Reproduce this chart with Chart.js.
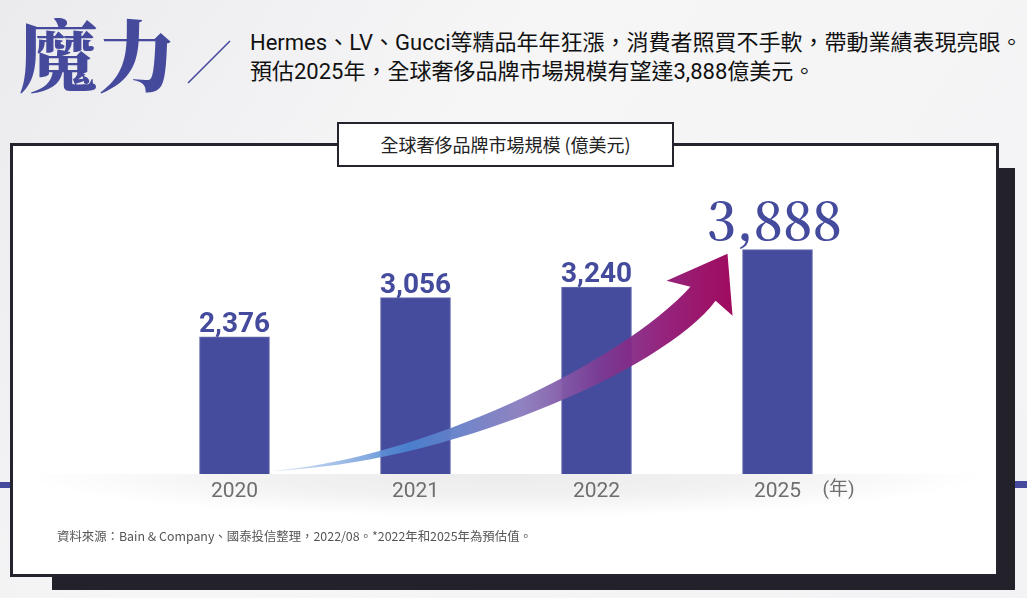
<!DOCTYPE html>
<html lang="zh-Hant">
<head>
<meta charset="utf-8">
<script src="https://cdn.jsdelivr.net/npm/chart.js@4"></script>
<style>
  body {
    margin: 0; width: 1027px; height: 598px; overflow: hidden; position: relative;
    background: linear-gradient(125deg, #ebebee 0%, #f6f6f7 38%, #f3f3f5 100%);
    font-family: 'Noto Sans CJK TC', sans-serif;
  }
  .abs { position: absolute; }
  #shadow { left: 52px; top: 168px; width: 963px; height: 422px; background: #23222b; }
  #panel { left: 10px; top: 143px; width: 989px; height: 434px; background: #fff;
    border: 3px solid #25232d; box-sizing: border-box; }
  .stripe { background: #464a9c; height: 6px; top: 482px; }
  #bigTitle { left: 20px; top: -4px; font-size: 78px; font-weight: 900; color: #464a9c;
    font-family: 'Noto Serif CJK TC', 'Noto Sans CJK TC', serif; }
  #lead { left: 250px; top: 28px; font-size: 22px; line-height: 29px; color: #111;
    font-family: 'Liberation Sans Narrow', Roboto, 'Noto Sans CJK TC', sans-serif; }
  #boxTitle { left: 337px; top: 122px; width: 337px; height: 45px; background: #fff;
    border: 2.5px solid #25232d; box-sizing: border-box; z-index: 3;
    font-size: 18px; color: #222; text-align: center; line-height: 40px; }
  #source { left: 57px; top: 527px; font-size: 12.4px; color: #555; z-index: 3; }
  canvas { position: absolute; left: 0; top: 0; z-index: 2; }
</style>
</head>
<body>
<div id="shadow" class="abs"></div>
<div id="panel" class="abs"></div>
<div class="abs stripe" style="left:0;width:10px"></div>
<div class="abs stripe" style="left:1015px;width:12px;top:481px;height:7px"></div>
<div id="bigTitle" class="abs">魔力</div>
<svg class="abs" style="left:0;top:0" width="260" height="100">
  <line x1="188" y1="83" x2="230" y2="41" stroke="#464a9c" stroke-width="1.6"/>
</svg>
<div id="lead" class="abs">Hermes、LV、Gucci等精品年年狂漲，消費者照買不手軟，帶動業績表現亮眼。<br>預估2025年，全球奢侈品牌市場規模有望達3,888億美元。</div>
<div id="boxTitle" class="abs">全球奢侈品牌市場規模 (億美元)</div>
<div id="source" class="abs">資料來源：Bain &amp; Company、國泰投信整理，2022/08。*2022年和2025年為預估值。</div>
<canvas id="marketChart" width="1027" height="598"></canvas>
<script>
const years = ['2020', '2021', '2022', '2025'];
const marketSize = [2376, 3056, 3240, 3888];
const yearUnit = '(年)';
const barColor = '#464c9d';

// gray band under the baseline, growth arrow, value labels
const decor = {
  id: 'decor',
  beforeDraw(chart) {
    const ctx = chart.ctx;
    const base = chart.scales.y.getPixelForValue(0);
    ctx.save();
    ctx.beginPath();
    ctx.rect(13, base, 984, 60);
    ctx.clip();
    ctx.translate(505, base);
    ctx.scale(1, 0.09);
    const g = ctx.createRadialGradient(0, 0, 0, 0, 0, 480);
    g.addColorStop(0, 'rgba(0,0,0,0.075)');
    g.addColorStop(0.5, 'rgba(0,0,0,0.055)');
    g.addColorStop(1, 'rgba(0,0,0,0)');
    ctx.fillStyle = g;
    ctx.fillRect(-500, 0, 1000, 700);
    ctx.restore();
  },
  afterDatasetsDraw(chart) {
    const ctx = chart.ctx;
    const y = chart.scales.y;
    const bars = chart.getDatasetMeta(0).data;
    const s = { x: bars[0].x + bars[0].width / 2, y: y.getPixelForValue(0) - 3 };
    const t = { x: bars[3].x - bars[3].width / 2 - 15, y: bars[3].y + 4 };
    const W = t.x - s.x, H = s.y - t.y;
    const P = (fx, fy) => [s.x + fx * W, s.y - fy * H];

    ctx.save();
    const g = ctx.createLinearGradient(s.x, 0, t.x, 0);
    g.addColorStop(0, 'rgba(190,210,240,0.6)');
    g.addColorStop(0.3, '#4a82d0');
    g.addColorStop(0.55, '#8a7cbd');
    g.addColorStop(0.72, '#7c3b94');
    g.addColorStop(0.86, '#8f1876');
    g.addColorStop(1, '#9a0058');
    ctx.fillStyle = g;
    ctx.globalAlpha = 0.95;
    ctx.beginPath();
    ctx.moveTo(...P(0, 0));
    ctx.bezierCurveTo(...P(0.33, 0.05), ...P(0.77, 0.5), ...P(0.919, 0.848));
    ctx.lineTo(...P(0.867, 0.876));
    ctx.lineTo(...P(1, 1));
    ctx.lineTo(...P(1.011, 0.714));
    ctx.lineTo(...P(0.974, 0.783));
    ctx.bezierCurveTo(...P(0.86, 0.46), ...P(0.38, 0.025), ...P(0, 0));
    ctx.closePath();
    ctx.fill();
    ctx.restore();

    ctx.save();
    ctx.fillStyle = '#454b9c';
    ctx.textAlign = 'center';
    ctx.textBaseline = 'alphabetic';
    bars.forEach((b, i) => {
      const last = i === bars.length - 1;
      const txt = marketSize[i].toLocaleString('en-US');
      ctx.font = last ? "600 51px 'Noto Serif CJK TC', 'Liberation Serif', serif" : "bold 28px Roboto";
      ctx.fillText(txt, b.x - (last ? 3 : 0), b.y - (last ? 10 : 5));
    });
    ctx.restore();
  },
  afterDraw(chart) {
    const ctx = chart.ctx;
    const x = chart.scales.x;
    ctx.save();
    ctx.font = "19px 'Liberation Sans Narrow', Roboto, 'Noto Sans CJK TC'";
    ctx.fillStyle = '#6e6e6e';
    ctx.textAlign = 'left';
    ctx.textBaseline = 'middle';
    ctx.fillText(yearUnit, x.getPixelForValue(years.length - 1) + 45, chart.chartArea.bottom + 16);
    ctx.restore();
  }
};

new Chart(document.getElementById('marketChart'), {
  type: 'bar',
  data: {
    labels: years,
    datasets: [{
      data: marketSize,
      backgroundColor: barColor,
      borderColor: '#6a6fb0',
      borderWidth: 1,
      barThickness: 70
    }]
  },
  options: {
    responsive: false,
    animation: false,
    devicePixelRatio: 1,
    layout: { padding: { left: 144, right: 159, top: 174, bottom: 94 } },
    plugins: { legend: { display: false }, tooltip: { enabled: false } },
    scales: {
      x: {
        grid: { display: false, drawTicks: false },
        border: { display: false },
        ticks: {
          color: '#6e6e6e',
          padding: 5,
          font: { family: "'Liberation Sans Narrow', Roboto", size: 21 }
        },
        afterFit: s => { s.height = 30; }
      },
      y: { display: false, min: 0, max: 5200 }
    }
  },
  plugins: [decor]
});
</script>
</body>
</html>
